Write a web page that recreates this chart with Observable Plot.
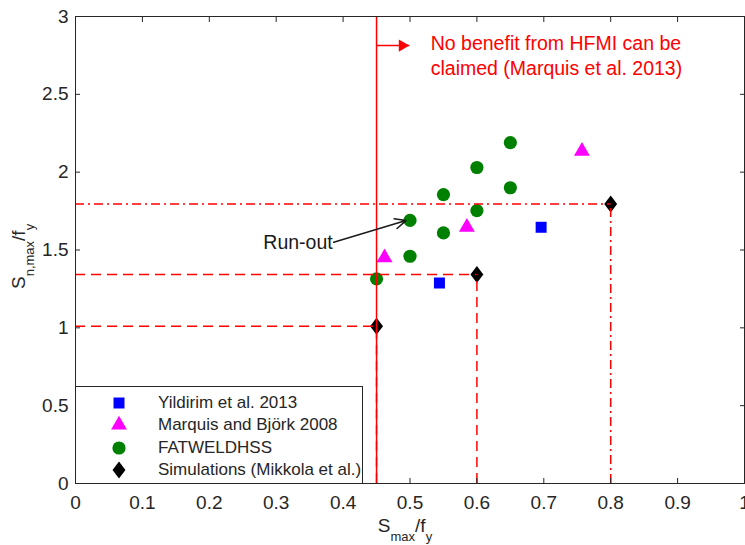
<!DOCTYPE html>
<html>
<head>
<meta charset="utf-8">
<script src="https://cdn.jsdelivr.net/npm/d3@7"></script>
<script src="https://cdn.jsdelivr.net/npm/@observablehq/plot@0.6"></script>
<style>
  body { margin: 0; background: #fff; }
  #wrap { position: relative; width: 745px; height: 545px; font-family: "Liberation Sans", Arial, sans-serif; }
  #legend { position: absolute; left: 75px; top: 386px; width: 288px; height: 98px; box-sizing: border-box;
            border: 1px solid #262626; background: #fff; }
  .row { position: absolute; left: 0; height: 22px; display: flex; align-items: center; font-size: 17px; color: #262626; white-space: nowrap; }
  .row svg { width: 82px; height: 22px; flex: none; }
</style>
</head>
<body>
<div id="wrap"><div id="legend"></div></div>
<script>
// ---- data ----
const xTicks = [0, 0.1, 0.2, 0.3, 0.4, 0.5, 0.6, 0.7, 0.8, 0.9, 1];
const yTicks = [0, 0.5, 1, 1.5, 2, 2.5, 3];

const yildirim = [[0.544, 1.288], [0.696, 1.646]];
const marquisBjork = [[0.462, 1.45], [0.585, 1.647], [0.757, 2.135]];
const fatweldhss = [[0.45, 1.315], [0.50, 1.46], [0.50, 1.69], [0.55, 1.61], [0.55, 1.856],
                    [0.60, 1.753], [0.60, 2.03], [0.65, 1.90], [0.65, 2.19]];
const simulations = [[0.45, 1.01], [0.60, 1.342], [0.80, 1.796]];

const seriesNames = ["Yildirim et al. 2013", "Marquis and Björk 2008", "FATWELDHSS", "Simulations (Mikkola et al.)"];
const seriesColors = ["#0000ff", "#ff00ff", "#008000", "#000000"];

const hfmiLimit = [0.45];
const dashedLimits = [[0.45, 1.01], [0.60, 1.342]];
const dashDotLimits = [[0.80, 1.796]];

const hfmiNoteLines = ["No benefit from HFMI can be", "claimed (Marquis et al. 2013)"];
const hfmiNoteX = [0.531, 0.531];
const hfmiNoteY = [2.826, 2.665];
const hfmiArrow = [[0.45, 0.499, 2.813]];

const runOutLabel = [[0.3326, 1.548, "Run-out"]];
const runOutArrow = [[0.386, 1.550, 0.494, 1.689]];

// ---- symbols ----
const diamond = {
  draw(ctx, size) {
    const r = Math.sqrt(size / Math.PI), w = 0.76 * r;
    ctx.moveTo(0, -r); ctx.lineTo(w, 0); ctx.lineTo(0, r); ctx.lineTo(-w, 0); ctx.closePath();
  }
};
const seriesSymbols = [d3.symbolSquare, d3.symbolTriangle, d3.symbolCircle, diamond];
const seriesR = [6.2, 5.9, 6.6, 8.5];
const seriesData = [yildirim, marquisBjork, fatweldhss, simulations];

const fmt = d => String(+d.toFixed(1));
const noteData = hfmiNoteLines.map((t, i) => ({x: hfmiNoteX[i], y: hfmiNoteY[i], text: t}));
const red = "#ff0000";
const axisColor = "#262626";

const plot = Plot.plot({
  width: 745, height: 545,
  marginLeft: 75, marginRight: 1, marginTop: 16, marginBottom: 62,
  style: {fontFamily: "'Liberation Sans', Arial, sans-serif", fontSize: "19px", color: axisColor, background: "white", overflow: "visible"},
  x: {domain: [0, 1], axis: null},
  y: {domain: [0, 3], axis: null},
  marks: [
    ...seriesData.map((data, i) => Plot.dot(data, {
      x: d => d[0], y: d => d[1], symbol: seriesSymbols[i], r: seriesR[i], fill: seriesColors[i], stroke: "none"
    })),
    Plot.ruleX(hfmiLimit, {x: d => d, stroke: red, strokeWidth: 1.5}),
    Plot.ruleY(dashedLimits, {y: d => d[1], x1: 0, x2: d => d[0], stroke: red, strokeWidth: 1.5, strokeDasharray: "10,6"}),
    Plot.ruleX(dashedLimits, {x: d => d[0], y1: 0, y2: d => d[1], stroke: red, strokeWidth: 1.5, strokeDasharray: "10,6"}),
    Plot.ruleY(dashDotLimits, {y: d => d[1], x1: 0, x2: d => d[0], stroke: red, strokeWidth: 1.5, strokeDasharray: "9,4,2,4"}),
    Plot.ruleX(dashDotLimits, {x: d => d[0], y1: 0, y2: d => d[1], stroke: red, strokeWidth: 1.5, strokeDasharray: "9,4,2,4"}),
    Plot.link(hfmiArrow, {x1: d => d[0], x2: d => d[1], y1: d => d[2], y2: d => d[2], stroke: red, strokeWidth: 1.5}),
    Plot.dot(hfmiArrow, {x: d => d[1], y: d => d[2], symbol: "triangle", rotate: 90, r: 4.5, fill: red, stroke: "none", dx: -7}),
    Plot.text(noteData, {x: "x", y: "y", text: "text", textAnchor: "start", fill: red, fontSize: 19.5}),
    Plot.arrow(runOutArrow, {x1: d => d[0], y1: d => d[1], x2: d => d[2], y2: d => d[3], stroke: "#1a1a1a", strokeWidth: 1.5, headLength: 12, headAngle: 50}),
    Plot.text(runOutLabel, {x: d => d[0], y: d => d[1], text: d => d[2], fill: "#1a1a1a", fontSize: 19.5}),
    Plot.frame({stroke: axisColor, strokeWidth: 1}),
    Plot.axisX({anchor: "bottom", ticks: xTicks, tickFormat: fmt, tickSize: -5, tickPadding: 17, label: null, stroke: axisColor, fill: axisColor}),
    Plot.axisX({anchor: "top", ticks: xTicks, tickFormat: () => "", tickSize: -5, label: null, stroke: axisColor}),
    Plot.axisY({anchor: "left", ticks: yTicks, tickFormat: fmt, tickSize: -5, tickPadding: 12, label: null, stroke: axisColor, fill: axisColor}),
    Plot.axisY({anchor: "right", ticks: yTicks, tickFormat: () => "", tickSize: -5, label: null, stroke: axisColor})
  ]
});

document.getElementById("wrap").prepend(plot);

// axis titles with sub/superscript-style tspans
const svg = d3.select(plot);
const xt = svg.append("text").attr("x", 405).attr("y", 532).attr("text-anchor", "middle")
  .attr("fill", axisColor).style("font-size", "19px");
xt.append("tspan").text("S");
xt.append("tspan").attr("dy", 9).style("font-size", "13px").text("max");
xt.append("tspan").attr("dy", -9).text("/f");
xt.append("tspan").attr("dy", 9).style("font-size", "13px").text("y");

const yt = svg.append("text").attr("transform", "translate(25,289) rotate(-90)").attr("text-anchor", "start")
  .attr("fill", axisColor).style("font-size", "19px");
yt.append("tspan").text("S");
yt.append("tspan").attr("dy", 9).style("font-size", "13px").text("n,max");
yt.append("tspan").attr("dy", -9).text("/f");
yt.append("tspan").attr("dy", 9).style("font-size", "13px").text("y");

// legend
const legend = d3.select("#legend");
seriesNames.forEach((name, i) => {
  const row = legend.append("div").attr("class", "row").style("top", (5 + i * 22.3) + "px");
  const s = row.append("svg");
  s.append("path")
    .attr("transform", "translate(43,11)")
    .attr("d", d3.symbol(seriesSymbols[i], Math.PI * seriesR[i] * seriesR[i])())
    .attr("fill", seriesColors[i]);
  row.append("span").text(name);
});
</script>
</body>
</html>
